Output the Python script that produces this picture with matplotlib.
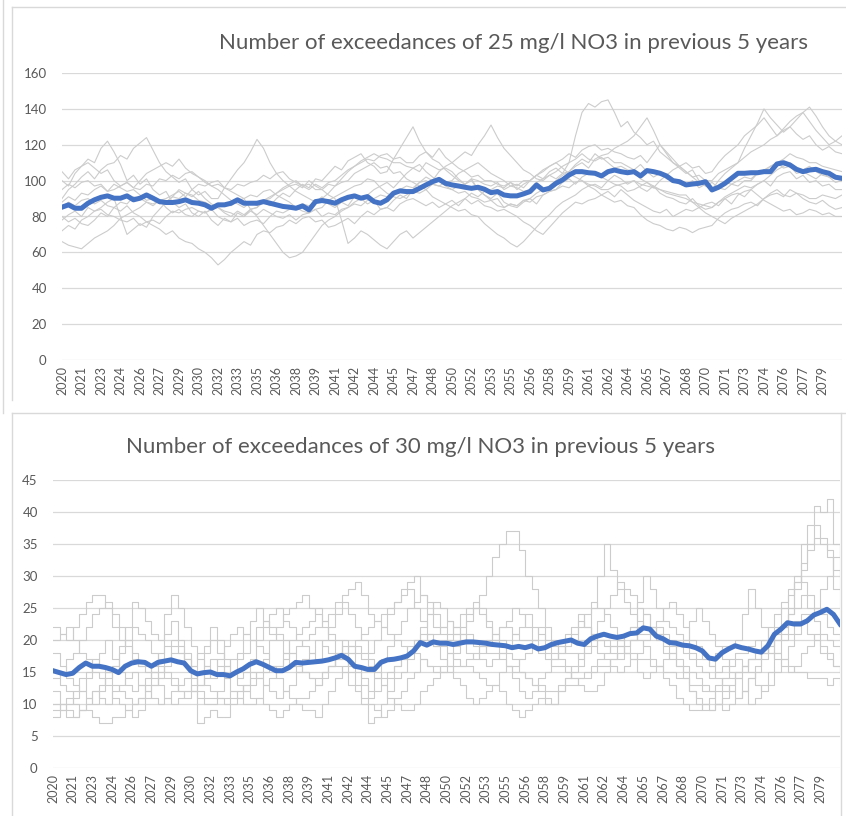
import numpy as np
import matplotlib
matplotlib.use("Agg")
import matplotlib.pyplot as plt
from matplotlib.lines import Line2D

plt.rcParams['font.family'] = ['Lato', 'DejaVu Sans']

# ---------------- data ----------------
start_year = 2020
end_year = 2080
tick_labels = ["2020", "2021", "2023", "2024", "2026", "2027", "2029", "2030", "2032", "2033",
               "2035", "2036", "2038", "2039", "2041", "2042", "2044", "2045", "2047", "2048",
               "2050", "2052", "2053", "2055", "2056", "2058", "2059", "2061", "2062", "2064",
               "2065", "2067", "2068", "2070", "2071", "2073", "2074", "2076", "2077", "2079"]

title_top = "Number of exceedances of 25 mg/l NO3 in previous 5 years"
title_bottom = "Number of exceedances of 30 mg/l NO3 in previous 5 years"

# mean (blue) series, half-year steps 2020..2080
mean_25 = [85.2, 86.5, 84.6, 84.6, 87.4, 89.3, 90.7, 91.5, 90.2, 90.2, 91.5, 89.3, 90.2, 92.0,
           90.2, 88.3, 87.8, 87.8, 88.3, 89.3, 87.8, 87.4, 86.5, 84.6, 86.5, 86.5, 87.4, 89.3,
           87.4, 87.4, 87.4, 88.3, 87.4, 86.5, 85.6, 85.2, 84.6, 85.9, 83.7, 88.3, 88.9, 88.3,
           87.4, 89.3, 90.7, 91.5, 90.2, 91.1, 88.3, 87.4, 89.3, 93.0, 94.3, 93.9, 93.9, 95.7,
           97.6, 99.4, 100.7, 98.5, 97.6, 97.0, 96.3, 95.7, 96.3, 95.2, 93.3, 93.9, 92.0, 91.5,
           91.5, 92.6, 93.9, 97.6, 94.8, 95.7, 98.5, 100.4, 103.1, 105.0, 105.0, 104.4, 104.1,
           102.6, 105.0, 105.9, 105.0, 104.4, 105.0, 102.6, 105.6, 105.0, 104.1, 102.6, 100.0,
           99.4, 97.6, 98.1, 98.5, 99.4, 94.8, 96.3, 98.5, 101.3, 104.1, 104.1, 104.4, 104.4,
           105.0, 105.0, 109.3, 110.0, 108.7, 106.3, 105.0, 105.9, 106.3, 105.0, 104.1, 101.9,
           101.3]

mean_30 = [15.2, 14.9, 14.6, 14.8, 15.7, 16.4, 15.9, 15.9, 15.7, 15.4, 14.9, 15.9, 16.4, 16.6,
           16.5, 15.9, 16.5, 16.7, 16.9, 16.6, 16.4, 15.2, 14.7, 14.9, 15.0, 14.6, 14.6, 14.4,
           15.0, 15.5, 16.2, 16.6, 16.2, 15.7, 15.2, 15.2, 15.7, 16.5, 16.4, 16.5, 16.6, 16.7,
           16.9, 17.2, 17.6, 17.0, 15.9, 15.7, 15.4, 15.4, 16.5, 16.9, 17.0, 17.2, 17.5, 18.3,
           19.6, 19.2, 19.7, 19.5, 19.5, 19.3, 19.5, 19.7, 19.7, 19.6, 19.5, 19.3, 19.2, 19.1,
           18.8, 19.0, 18.8, 19.1, 18.6, 18.8, 19.3, 19.6, 19.8, 20.0, 19.5, 19.3, 20.2, 20.6,
           20.9, 20.6, 20.4, 20.6, 21.0, 21.1, 21.9, 21.7, 20.6, 20.2, 19.6, 19.5, 19.2, 19.1,
           18.8, 18.3, 17.2, 17.0, 18.0, 18.6, 19.1, 18.8, 18.6, 18.3, 18.1, 19.1, 20.9, 21.7,
           22.7, 22.5, 22.5, 23.0, 23.9, 24.3, 24.8, 24.0, 22.5]

# ensemble members, 25 mg/l (grey)
run25_1 = [100, 97, 104, 108, 112, 110, 118, 122, 116, 109, 100, 103, 98, 101, 95, 92, 94, 88, 85, 87,
           82, 80, 83, 78, 75, 79, 77, 82, 80, 84, 85, 88, 86, 90, 93, 91, 95, 98, 96, 101,
           100, 104, 108, 106, 111, 113, 115, 110, 108, 104, 105, 112, 118, 124, 130, 122, 116, 112, 110, 106,
           103, 100, 98, 101, 95, 92, 90, 93, 88, 86, 85, 88, 90, 87, 92, 94, 95, 99, 101, 98,
           102, 104, 105, 102, 100, 103, 101, 98, 100, 96, 94, 97, 93, 91, 90, 88, 87, 90, 86, 84,
           85, 88, 90, 87, 92, 94, 95, 98, 100, 97, 102, 104, 105, 101, 103, 99, 100, 97, 98, 95,
           95]
run25_2 = [90, 95, 98, 102, 105, 101, 106, 109, 110, 114, 112, 118, 121, 124, 117, 110, 105, 102, 99, 101,
           95, 92, 94, 90, 90, 96, 101, 106, 110, 116, 123, 118, 110, 104, 100, 97, 94, 92, 90, 88,
           91, 87, 85, 88, 86, 91, 90, 87, 89, 84, 85, 89, 92, 90, 95, 99, 102, 100, 105, 108,
           110, 113, 116, 114, 120, 125, 131, 124, 118, 114, 110, 106, 104, 101, 100, 103, 101, 104, 105, 109,
           112, 110, 115, 112, 113, 110, 110, 108, 106, 109, 105, 102, 104, 101, 100, 98, 97, 100, 96, 98,
           95, 100, 104, 107, 110, 118, 125, 132, 140, 135, 131, 127, 130, 126, 123, 125, 120, 117, 119, 116,
           115]
run25_3 = [80, 77, 79, 76, 75, 78, 82, 80, 85, 83, 86, 82, 80, 77, 75, 73, 70, 72, 68, 66,
           65, 62, 60, 57, 53, 56, 60, 63, 66, 64, 70, 72, 71, 74, 75, 78, 76, 79, 80, 77,
           78, 74, 75, 77, 79, 76, 80, 83, 81, 84, 85, 83, 87, 89, 90, 88, 86, 88, 85, 87,
           89, 86, 90, 93, 91, 94, 95, 97, 96, 99, 97, 100, 100, 103, 101, 105, 107, 104, 110, 125,
           138, 143, 141, 144, 145, 138, 130, 133, 127, 124, 120, 122, 116, 113, 110, 107, 104, 106, 100, 97,
           99, 96, 95, 98, 97, 100, 100, 104, 106, 108, 110, 107, 108, 104, 105, 103, 101, 104, 102, 99,
           100]
run25_4 = [66, 64, 63, 62, 65, 68, 70, 72, 75, 79, 81, 83, 85, 88, 86, 89, 90, 92, 94, 91,
           95, 98, 97, 99, 100, 96, 94, 92, 90, 84, 80, 75, 70, 65, 60, 57, 58, 60, 65, 70,
           75, 78, 80, 83, 85, 88, 90, 92, 95, 97, 99, 96, 100, 104, 107, 105, 110, 108, 106, 107,
           105, 101, 98, 100, 95, 92, 89, 90, 85, 87, 86, 89, 90, 93, 95, 97, 100, 103, 105, 108,
           110, 107, 112, 114, 115, 118, 120, 122, 125, 130, 135, 128, 120, 115, 110, 108, 105, 102, 103, 100,
           100, 104, 106, 108, 110, 113, 116, 118, 120, 123, 125, 128, 130, 134, 138, 141, 136, 130, 125, 122,
           120]
run25_5 = [105, 101, 106, 108, 110, 107, 104, 106, 100, 97, 99, 96, 95, 98, 97, 101, 100, 103, 101, 104,
           105, 102, 99, 97, 95, 92, 89, 87, 85, 88, 86, 89, 90, 93, 96, 98, 100, 97, 98, 95,
           95, 98, 97, 99, 100, 104, 106, 108, 110, 107, 108, 104, 105, 101, 99, 97, 95, 91, 89, 87,
           85, 83, 84, 81, 80, 76, 73, 70, 68, 65, 63, 66, 70, 74, 78, 81, 85, 88, 90, 92,
           95, 97, 98, 96, 100, 98, 97, 94, 95, 97, 99, 96, 100, 103, 106, 108, 110, 107, 108, 104,
           105, 110, 114, 117, 120, 125, 128, 131, 135, 130, 125, 129, 133, 136, 138, 133, 128, 124, 120, 122,
           125]
run25_6 = [72, 75, 73, 78, 80, 83, 85, 88, 90, 80, 70, 73, 76, 74, 80, 84, 88, 91, 95, 93,
           91, 94, 90, 87, 85, 82, 80, 83, 81, 84, 85, 89, 91, 93, 95, 97, 98, 96, 100, 97,
           95, 92, 90, 78, 65, 68, 72, 70, 67, 64, 62, 66, 70, 72, 68, 71, 74, 77, 80, 83,
           86, 88, 90, 87, 89, 86, 85, 83, 84, 82, 80, 77, 75, 72, 70, 74, 78, 82, 85, 88,
           87, 89, 90, 92, 94, 91, 95, 92, 89, 87, 85, 83, 82, 84, 80, 82, 84, 83, 85, 87,
           88, 86, 90, 92, 93, 91, 95, 92, 89, 87, 85, 83, 84, 81, 82, 84, 83, 81, 82, 80,
           80]
run25_7 = [85, 88, 86, 89, 90, 87, 89, 86, 85, 88, 87, 91, 90, 88, 87, 89, 85, 82, 84, 81,
           80, 83, 82, 84, 85, 87, 86, 89, 90, 92, 91, 94, 95, 92, 90, 88, 85, 83, 82, 84,
           80, 82, 81, 84, 85, 87, 86, 89, 90, 92, 91, 94, 95, 97, 96, 99, 100, 98, 97, 96,
           95, 93, 94, 91, 90, 88, 89, 86, 85, 87, 86, 89, 88, 91, 92, 94, 95, 97, 96, 99,
           100, 97, 95, 92, 90, 88, 89, 86, 85, 81, 78, 76, 75, 73, 72, 74, 73, 71, 73, 74,
           75, 79, 82, 84, 85, 87, 88, 86, 90, 92, 93, 91, 95, 93, 92, 90, 90, 92, 91, 90,
           92]
run25_8 = [95, 98, 96, 99, 100, 97, 98, 94, 95, 97, 99, 96, 100, 104, 106, 108, 110, 108, 112, 107,
           104, 102, 100, 97, 98, 96, 95, 98, 97, 99, 100, 103, 101, 104, 105, 101, 99, 97, 95, 98,
           96, 99, 100, 103, 106, 108, 110, 112, 111, 114, 115, 112, 113, 110, 110, 114, 116, 113, 118, 113,
           110, 107, 105, 102, 103, 100, 100, 98, 97, 99, 95, 98, 100, 103, 105, 108, 110, 112, 115, 113,
           117, 119, 120, 117, 118, 116, 115, 113, 112, 114, 110, 115, 120, 116, 112, 108, 105, 102, 99, 97,
           95, 97, 99, 98, 100, 102, 101, 104, 105, 108, 110, 112, 115, 113, 112, 110, 110, 108, 107, 106,
           105]
run25_9 = [88, 91, 89, 93, 92, 95, 97, 94, 98, 96, 94, 95, 92, 89, 90, 87, 88, 91, 90, 93,
           92, 89, 88, 86, 85, 83, 82, 80, 80, 83, 81, 84, 82, 80, 79, 81, 78, 81, 82, 84,
           85, 89, 91, 93, 95, 97, 98, 101, 100, 96, 93, 91, 90, 92, 94, 93, 95, 98, 97, 99,
           100, 104, 106, 108, 110, 107, 104, 102, 100, 97, 96, 94, 95, 99, 101, 103, 105, 108, 110, 112,
           115, 112, 111, 113, 110, 107, 108, 106, 105, 101, 99, 97, 95, 93, 92, 91, 90, 88, 87, 86,
           85, 88, 91, 93, 95, 97, 96, 98, 100, 103, 106, 108, 110, 107, 106, 108, 105, 103, 102, 101,
           100]
run25_10 = [78, 81, 83, 80, 85, 83, 84, 81, 80, 78, 77, 79, 75, 77, 78, 76, 80, 83, 82, 84,
            85, 83, 82, 84, 80, 78, 77, 79, 75, 77, 78, 76, 80, 83, 82, 84, 85, 87, 86, 88,
            90, 93, 97, 101, 105, 108, 111, 113, 115, 113, 112, 110, 110, 108, 107, 109, 105, 102, 100, 97,
            95, 97, 98, 101, 100, 98, 97, 99, 95, 97, 98, 96, 100, 103, 106, 108, 110, 107, 104, 102,
            100, 98, 97, 95, 95, 97, 98, 99, 100, 98, 97, 96, 95, 94, 93, 92, 92, 88, 85, 82,
            80, 78, 76, 79, 81, 83, 85, 87, 90, 93, 95, 92, 91, 93, 90, 88, 87, 89, 86, 84,
            85]

# ensemble members, 30 mg/l (grey, integer counts)
run30_1 = [22, 21, 20, 22, 24, 26, 27, 27, 25, 22, 20, 19, 17, 16, 16, 15, 14, 14, 13, 12,
           12, 12, 11, 10, 10, 11, 11, 12, 12, 13, 13, 14, 15, 16, 16, 17, 18, 19, 20, 21,
           22, 23, 24, 26, 27, 28, 29, 27, 24, 23, 22, 21, 20, 19, 18, 18, 17, 16, 16, 15,
           15, 16, 16, 17, 18, 19, 20, 21, 22, 22, 21, 20, 20, 19, 18, 17, 16, 16, 15, 14,
           14, 14, 15, 16, 16, 17, 18, 19, 20, 21, 21, 22, 22, 21, 20, 19, 18, 17, 16, 15,
           14, 15, 16, 17, 18, 18, 19, 20, 20, 22, 24, 26, 28, 30, 29, 27, 25, 24, 22, 21,
           20]
run30_2 = [10, 9, 9, 8, 9, 10, 12, 13, 15, 16, 19, 22, 26, 25, 23, 21, 20, 24, 27, 25,
           22, 19, 17, 16, 14, 15, 16, 17, 18, 21, 23, 25, 23, 21, 20, 18, 16, 15, 15, 14,
           14, 15, 16, 17, 18, 19, 20, 21, 22, 23, 24, 25, 26, 28, 29, 30, 27, 24, 22, 21,
           20, 21, 22, 24, 25, 27, 30, 33, 35, 37, 37, 34, 30, 28, 25, 22, 20, 19, 18, 18,
           17, 18, 19, 20, 20, 19, 19, 18, 18, 17, 17, 16, 16, 15, 15, 14, 14, 13, 13, 12,
           12, 13, 14, 14, 15, 16, 17, 17, 18, 20, 21, 22, 24, 29, 35, 38, 41, 40, 42, 35,
           30]
run30_3 = [15, 13, 12, 10, 9, 9, 8, 7, 7, 8, 8, 9, 10, 11, 12, 13, 14, 16, 18, 18,
           17, 15, 13, 18, 22, 20, 17, 15, 13, 12, 11, 11, 10, 9, 8, 9, 10, 11, 11, 12,
           13, 15, 16, 18, 20, 19, 18, 18, 17, 15, 14, 15, 16, 17, 18, 20, 21, 20, 19, 19,
           18, 17, 16, 16, 15, 14, 13, 13, 12, 10, 9, 8, 9, 10, 11, 10, 10, 12, 13, 13,
           14, 15, 16, 17, 18, 19, 20, 21, 22, 26, 30, 28, 25, 23, 22, 21, 20, 18, 17, 17,
           16, 18, 19, 19, 20, 24, 28, 25, 22, 20, 18, 17, 16, 15, 15, 14, 14, 14, 13, 14,
           13]
run30_4 = [8, 9, 10, 11, 12, 14, 16, 18, 20, 17, 15, 13, 12, 13, 14, 16, 18, 21, 23, 20,
           17, 12, 7, 8, 9, 8, 8, 10, 11, 12, 14, 15, 17, 20, 22, 24, 25, 26, 27, 25,
           24, 22, 20, 18, 17, 15, 13, 10, 7, 8, 10, 12, 14, 15, 17, 19, 20, 21, 21, 22,
           23, 22, 21, 21, 20, 19, 18, 18, 17, 16, 15, 15, 14, 13, 13, 12, 12, 13, 14, 15,
           16, 20, 25, 30, 35, 31, 28, 26, 24, 23, 22, 21, 20, 18, 17, 16, 15, 12, 10, 9,
           9, 10, 12, 13, 15, 16, 17, 17, 18, 19, 20, 20, 21, 23, 24, 24, 25, 28, 30, 33,
           35]
run30_5 = [18, 16, 14, 13, 12, 11, 10, 12, 14, 16, 18, 20, 22, 21, 20, 18, 16, 15, 14, 12,
           11, 12, 13, 14, 15, 17, 19, 21, 22, 21, 20, 19, 18, 16, 14, 12, 11, 10, 9, 9,
           8, 10, 12, 14, 16, 18, 19, 17, 16, 14, 13, 11, 10, 9, 9, 10, 12, 13, 14, 15,
           16, 18, 20, 23, 25, 24, 22, 20, 18, 16, 14, 12, 11, 12, 14, 15, 17, 18, 19, 20,
           22, 24, 26, 25, 24, 22, 20, 18, 17, 15, 14, 15, 16, 17, 18, 19, 20, 23, 25, 23,
           21, 19, 17, 15, 14, 12, 10, 11, 13, 15, 18, 21, 25, 28, 32, 35, 38, 36, 33, 28,
           22]
run30_6 = [12, 10, 8, 8, 9, 11, 12, 11, 10, 12, 13, 14, 15, 13, 12, 11, 10, 11, 12, 13,
           14, 16, 18, 19, 20, 18, 16, 15, 14, 15, 17, 20, 22, 24, 25, 23, 22, 20, 19, 18,
           17, 20, 22, 24, 26, 24, 22, 20, 18, 20, 22, 24, 26, 27, 28, 25, 23, 21, 19, 17,
           16, 14, 13, 11, 10, 11, 12, 13, 15, 16, 16, 17, 18, 20, 22, 20, 19, 17, 16, 14,
           13, 12, 12, 13, 15, 17, 19, 21, 22, 20, 19, 17, 16, 14, 13, 11, 10, 9, 9, 10,
           11, 12, 14, 16, 17, 16, 15, 13, 12, 13, 15, 17, 19, 21, 23, 21, 20, 18, 17, 16,
           15]
run30_7 = [20, 21, 22, 20, 18, 17, 15, 14, 13, 11, 10, 9, 8, 9, 11, 13, 15, 17, 19, 18,
           16, 14, 12, 11, 11, 12, 14, 15, 17, 18, 20, 22, 23, 22, 21, 20, 18, 16, 15, 14,
           13, 14, 16, 17, 19, 18, 16, 14, 12, 14, 17, 19, 21, 23, 25, 26, 27, 26, 24, 22,
           21, 22, 24, 25, 26, 25, 23, 21, 20, 18, 17, 15, 14, 13, 12, 11, 10, 12, 14, 16,
           18, 19, 21, 23, 25, 27, 29, 28, 27, 25, 24, 22, 21, 20, 19, 17, 16, 15, 14, 13,
           12, 10, 9, 10, 11, 12, 14, 15, 17, 18, 20, 22, 24, 25, 27, 25, 23, 21, 20, 19,
           18]
run30_8 = [14, 15, 17, 18, 20, 22, 24, 25, 26, 24, 22, 20, 18, 16, 15, 14, 13, 11, 10, 11,
           12, 13, 15, 16, 17, 16, 14, 12, 11, 10, 10, 11, 13, 14, 16, 18, 20, 21, 22, 23,
           25, 23, 21, 20, 18, 16, 15, 13, 11, 12, 13, 14, 16, 17, 19, 20, 22, 24, 26, 25,
           23, 21, 20, 18, 17, 18, 19, 20, 22, 23, 25, 24, 22, 20, 19, 18, 17, 18, 20, 21,
           23, 22, 20, 18, 17, 16, 15, 16, 17, 18, 20, 21, 23, 25, 26, 24, 22, 20, 19, 17,
           16, 14, 13, 12, 11, 12, 14, 16, 18, 20, 22, 25, 27, 29, 31, 34, 36, 35, 34, 31,
           28]
run30_9 = [9, 10, 11, 12, 14, 15, 17, 16, 15, 13, 12, 11, 10, 11, 13, 15, 17, 19, 20, 19,
           18, 16, 15, 13, 12, 11, 10, 11, 12, 13, 15, 14, 13, 12, 11, 12, 13, 15, 17, 18,
           20, 19, 18, 16, 15, 13, 12, 11, 10, 9, 8, 9, 11, 12, 14, 15, 17, 16, 15, 16,
           18, 19, 21, 20, 19, 17, 16, 17, 18, 19, 21, 22, 24, 22, 21, 19, 18, 19, 21, 22,
           24, 22, 21, 20, 19, 18, 17, 18, 20, 22, 24, 22, 21, 19, 18, 16, 14, 12, 11, 10,
           9, 10, 11, 12, 14, 15, 17, 18, 20, 18, 17, 16, 15, 16, 18, 19, 21, 19, 18, 16,
           15]

runs_25 = [run25_1, run25_2, run25_3, run25_4, run25_5, run25_6, run25_7, run25_8, run25_9, run25_10]
runs_30 = [run30_1, run30_2, run30_3, run30_4, run30_5, run30_6, run30_7, run30_8, run30_9]

# ---------------- figure ----------------
W, H = 846, 816
fig = plt.figure(figsize=(W / 100, H / 100), dpi=100)

TXT = '#595959'
GRID = '#D9D9D9'
GREY = '#CCCCCC'
BLUE = '#4472C4'

years = np.linspace(start_year, end_year, len(mean_25))
tick_pos = start_year + 1.5 * np.arange(len(tick_labels))


def px_rect(x0, y0, x1, y1):
    """pixel box (top-left origin) -> axes rect in figure fraction"""
    return [x0 / W, 1 - y1 / H, (x1 - x0) / W, (y1 - y0) / H]


def style_axes(ax, ymax, ystep, ypad):
    ax.set_xlim(start_year, end_year)
    ax.set_ylim(0, ymax)
    ax.set_yticks(np.arange(0, ymax + 0.1, ystep))
    ax.set_xticks(tick_pos)
    ax.set_xticklabels(tick_labels, rotation=90)
    for s in ax.spines.values():
        s.set_visible(False)
    ax.grid(axis='y', color=GRID, linewidth=0.9)
    ax.set_axisbelow(True)
    ax.tick_params(axis='y', length=0, pad=ypad, labelsize=9.5, labelcolor=TXT)
    ax.tick_params(axis='x', length=0, pad=4, labelsize=9, labelcolor=TXT)
    ax.set_facecolor('none')


# top panel
ax1 = fig.add_axes(px_rect(62, 73, 842, 360))
for r in runs_25:
    ax1.plot(years, r, color=GREY, linewidth=0.8, zorder=2)
ax1.plot(years, mean_25, color=BLUE, linewidth=3.6, zorder=3, solid_joinstyle='round')
style_axes(ax1, 160, 20, 11)

# bottom panel
ax2 = fig.add_axes(px_rect(53, 480, 840, 768))
for r in runs_30:
    ax2.plot(years, r, color=GREY, linewidth=0.8, drawstyle='steps-post', zorder=2)
ax2.plot(years, mean_30, color=BLUE, linewidth=3.6, zorder=3, solid_joinstyle='round')
style_axes(ax2, 45, 5, 11)

fig.text(513 / W, 1 - 43 / H, title_top, ha='center', va='center', fontsize=16, color=TXT)
fig.text(420 / W, 1 - 447 / H, title_bottom, ha='center', va='center', fontsize=16, color=TXT)

# chart frame borders (screenshot of two chart objects)
def fline(x0, y0, x1, y1):
    fig.add_artist(Line2D([x0 / W, x1 / W], [1 - y0 / H, 1 - y1 / H], transform=fig.transFigure,
                          color=GRID, linewidth=1.0))

fline(3, 0, 3, 413)
fline(12, 7, 12, 400)
fline(12, 7, 846, 7)
fline(12, 413, 846, 413)
fline(12, 413, 12, 816)
fline(841, 413, 841, 816)

fig.savefig('out.png', dpi=100)
